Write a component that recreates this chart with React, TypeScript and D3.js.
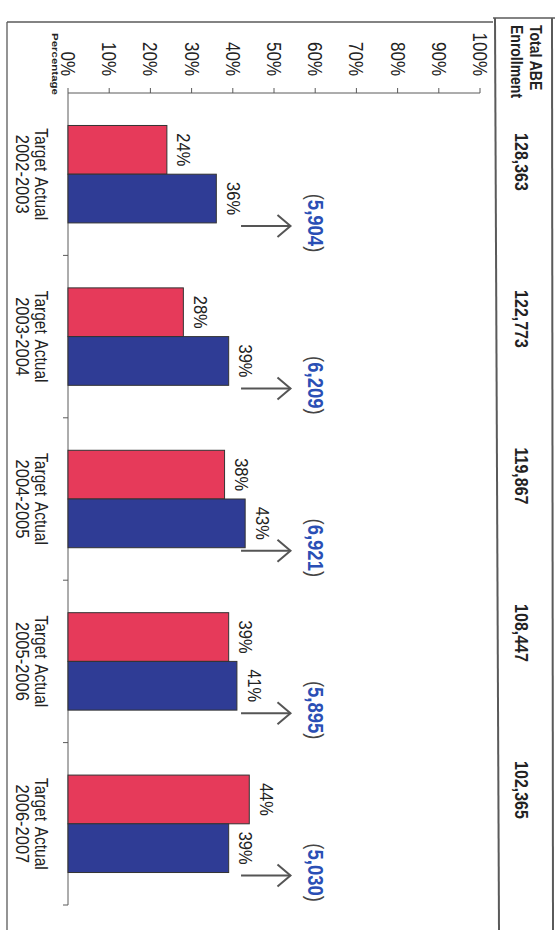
import React from "react";
import * as d3 from "d3";

const years = ["2002-2003", "2003-2004", "2004-2005", "2005-2006", "2006-2007"];
const seriesNames = ["Target", "Actual"];
const targetPct = [24, 28, 38, 39, 44];
const actualPct = [36, 39, 43, 41, 39];
const decline = [5904, 6209, 6921, 5895, 5030];
const enrollment = [128363, 122773, 119867, 108447, 102365];
const pctTicks = [0, 10, 20, 30, 40, 50, 60, 70, 80, 90, 100];

const W = 555;
const H = 930;
const FONT = "'Liberation Sans', Arial, Helvetica, sans-serif";
const RED = "#e63a5a";
const BLUE = "#2f3c95";
const LABEL_BLUE = "#2a4fb5";
const LINE = "#5a5a5a";

function RText({ x, y, anchor = "middle", size = 16, weight = "normal", fill = "#222", children, sx = 1, sy = 1.15, textLength }: any) {
  return (
    <text
      transform={`translate(${x},${y}) rotate(90) scale(${sx},${sy})`}
      textAnchor={anchor}
      dominantBaseline="central"
      fontFamily={FONT}
      fontSize={size}
      fontWeight={weight}
      fill={fill}
      textLength={textLength}
      lengthAdjust={textLength ? "spacingAndGlyphs" : undefined}
    >
      {children}
    </text>
  );
}

export default function App() {
  // value axis runs horizontally (the chart is printed rotated)
  const x = d3.scaleLinear().domain([0, 100]).range([68, 480]);
  // category axis runs vertically
  const y0 = d3.scaleBand<string>().domain(years).range([93, 905]).padding(0);
  const bw = y0.bandwidth();
  const y1 = d3.scaleBand<string>().domain(seriesNames).range([bw * 0.2, bw * 0.8]).padding(0);
  const tableY = d3.scalePoint<string>().domain(years).range([162, 790]);
  const fmt = d3.format(",");

  const rows = years.map((yr, i) => ({ yr, vals: [targetPct[i], actualPct[i]], dec: decline[i], enr: enrollment[i] }));

  return (
    <svg width={W} height={H} style={{ position: "absolute", left: 0, top: 0, background: "#fff" }}>
      <rect x={0} y={0} width={W} height={H} fill="#fff" />
      {/* frame */}
      <line x1={7} y1={22} x2={493} y2={22} stroke={LINE} strokeWidth={1.3} />
      <line x1={7} y1={22} x2={7} y2={H} stroke={LINE} strokeWidth={1.3} />
      <line x1={493} y1={18} x2={555} y2={18} stroke={LINE} strokeWidth={1.5} />
      <line x1={495} y1={18} x2={499} y2={H} stroke={LINE} strokeWidth={2} />
      <line x1={552} y1={18} x2={553} y2={H} stroke={LINE} strokeWidth={2} />

      {/* table header */}
      <RText x={536} y={25} anchor="start" size={14} weight="bold">Total ABE</RText>
      <RText x={517} y={25} anchor="start" size={14} weight="bold">Enrollment</RText>
      {rows.map((r) => (
        <RText key={"enr" + r.yr} x={521} y={tableY(r.yr)} size={16} weight="bold">
          {fmt(r.enr)}
        </RText>
      ))}

      {/* value axis */}
      <line x1={x(0)} y1={93} x2={x(100)} y2={93} stroke={LINE} strokeWidth={1} />
      {pctTicks.map((t) => (
        <g key={"t" + t}>
          <line x1={x(t)} y1={88} x2={x(t)} y2={93} stroke={LINE} strokeWidth={1} />
          <RText x={x(t)} y={76} anchor="end" size={17}>{t + "%"}</RText>
        </g>
      ))}
      <RText x={55} y={33} anchor="start" size={7} weight="bold" textLength={62} sy={1.3}>Percentage</RText>

      {/* category axis */}
      <line x1={x(0)} y1={93} x2={x(0)} y2={905} stroke={LINE} strokeWidth={1} />
      {years.map((yr) => (
        <line key={"ct" + yr} x1={x(0) - 5} y1={(y0(yr) as number) + bw} x2={x(0)} y2={(y0(yr) as number) + bw} stroke={LINE} strokeWidth={1} />
      ))}

      {rows.map((r) => {
        const gy = y0(r.yr) as number;
        const arrowY = gy + 133;
        const ax0 = x(42);
        const ax1 = x(54);
        return (
          <g key={r.yr}>
            {r.vals.map((v, j) => {
              const by = gy + (y1(seriesNames[j]) as number);
              const h = y1.bandwidth();
              return (
                <g key={j}>
                  <rect x={x(0)} y={by} width={x(v) - x(0)} height={h} fill={j === 0 ? RED : BLUE} stroke="#333" strokeWidth={1} />
                  <RText x={x(v) + 17} y={by + h / 2} size={16.5}>{v + "%"}</RText>
                  <RText x={41} y={by + h / 2} size={15.5}>{seriesNames[j]}</RText>
                </g>
              );
            })}
            <RText x={22} y={gy + y1(seriesNames[1])!} size={16.5}>{r.yr}</RText>
            {/* arrow */}
            <g stroke="#555" strokeWidth={2} fill="none">
              <line x1={ax0} y1={arrowY} x2={ax1} y2={arrowY} />
              <polyline points={`${ax1 - 13},${arrowY - 11} ${ax1},${arrowY} ${ax1 - 13},${arrowY + 11}`} />
            </g>
            <text
              transform={`translate(${ax1 + 25},${arrowY - 3}) rotate(90) scale(1,1.15)`}
              textAnchor="middle"
              dominantBaseline="central"
              fontFamily={FONT}
              fontSize={18.5}
              fontWeight="bold"
              fill={LABEL_BLUE}
            >
              <tspan fill="#444" fontWeight="normal">(</tspan>
              {fmt(r.dec)}
              <tspan fill="#444" fontWeight="normal">)</tspan>
            </text>
          </g>
        );
      })}
    </svg>
  );
}
